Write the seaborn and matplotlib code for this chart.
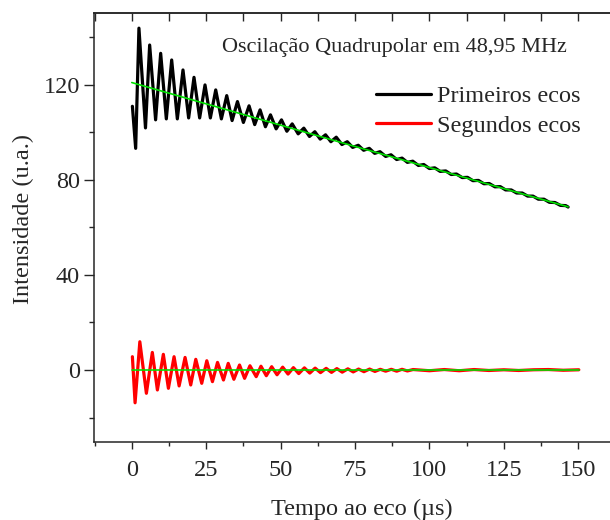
import matplotlib
matplotlib.use("Agg")
import matplotlib.pyplot as plt
from matplotlib.ticker import MultipleLocator
import seaborn as sns
import pandas as pd

# ---- data ----
black_t = [0.2, 1.3, 2.4, 4.6, 6.0, 8.0, 9.7, 11.6, 13.4, 15.3,
           17.2, 19.1, 20.9, 22.8, 24.6, 26.4, 28.2, 30.1, 31.9, 33.7,
           35.5, 37.5, 39.4, 41.3, 43.1, 44.9, 46.6, 48.5, 50.3, 52.1,
           53.9, 55.9, 57.8, 59.7, 61.5, 63.3, 65.1, 66.9, 68.7, 70.6,
           72.4, 74.2, 76.1, 77.9, 79.8, 81.6, 83.4, 85.3, 87.1, 89.0,
           90.8, 92.6, 94.4, 96.3, 98.1, 100.0, 101.8, 103.6, 105.5, 107.3,
           109.1, 111.0, 112.8, 114.6, 116.5, 118.3, 120.1, 122.0, 123.8, 125.6,
           127.5, 129.3, 131.2, 133.0, 134.8, 136.6, 138.5, 140.3, 142.2, 144.0,
           145.8, 146.6]
black_y = [111.0, 93.3, 143.9, 101.9, 136.8, 105.3, 133.3, 105.7, 130.5, 105.7,
           126.3, 106.1, 123.2, 106.1, 120.0, 106.1, 117.9, 105.7, 115.5, 105.0,
           113.0, 104.2, 111.2, 103.3, 109.5, 102.4, 107.4, 101.5, 105.3, 100.5,
           103.6, 99.4, 101.8, 98.3, 100.3, 97.2, 99.0, 96.1, 98.0, 94.9,
           96.1, 93.7, 94.6, 92.5, 93.3, 91.2, 91.9, 89.9, 90.6, 88.6,
           89.2, 87.4, 87.9, 86.1, 86.5, 84.8, 85.1, 83.6, 83.8, 82.3,
           82.5, 81.0, 81.1, 79.7, 79.8, 78.4, 78.5, 77.1, 77.2, 75.8,
           75.8, 74.5, 74.5, 73.2, 73.2, 71.9, 71.9, 70.6, 70.5, 69.3,
           69.2, 68.6]

red_t = [0.2, 1.1, 2.7, 4.9, 6.9, 8.6, 10.6, 12.3, 14.2, 15.9,
         17.9, 19.8, 21.5, 23.5, 25.2, 27.1, 28.8, 30.8, 32.4, 34.3,
         36.2, 37.9, 39.7, 41.8, 43.4, 45.2, 47.0, 48.8, 50.7, 52.5,
         54.3, 56.1, 58.0, 59.8, 61.6, 63.4, 65.3, 67.1, 68.9, 70.7,
         72.6, 74.4, 76.2, 78.0, 79.9, 81.7, 83.5, 85.3, 87.2, 89.0,
         90.8, 92.6, 94.5, 100.0, 105.0, 110.0, 115.0, 120.0, 125.0, 130.0,
         135.0, 140.0, 145.0, 150.2]
red_y = [5.6, -13.8, 11.9, -9.8, 7.4, -8.4, 6.6, -7.7, 5.6, -6.7,
         5.3, -6.3, 4.5, -5.6, 3.9, -4.9, 3.2, -4.2, 2.8, -3.9,
         2.1, -3.5, 1.8, -2.8, 1.6, -2.4, 1.4, -2.0, 1.2, -1.7,
         1.0, -1.5, 0.9, -1.3, 0.8, -1.1, 0.7, -1.0, 0.6, -0.9,
         0.5, -0.8, 0.4, -0.7, 0.4, -0.6, 0.3, -0.5, 0.3, -0.5,
         0.3, -0.4, 0.2, -0.3, 0.2, -0.3, 0.2, -0.2, 0.1, -0.2,
         0.1, 0.2, -0.1, 0.1]

fit1_t = [0.0, 75.0, 146.6]
fit1_y = [121.0, 94.1, 68.7]
fit2_t = [0.0, 150.2]
fit2_y = [0.0, 0.0]

x_ticks = [0, 25, 50, 75, 100, 125, 150]
y_ticks = [0, 40, 80, 120]

annotation = "Oscilação Quadrupolar em 48,95 MHz"
label_1 = "Primeiros ecos"
label_2 = "Segundos ecos"
x_label = "Tempo ao eco (µs)"
y_label = "Intensidade (u.a.)"

# ---- figure ----
sns.set_style("ticks")
plt.rcParams["font.family"] = ["Liberation Serif", "DejaVu Serif"]
plt.rcParams["axes.linewidth"] = 1.1
plt.rcParams["lines.solid_joinstyle"] = "round"

W, H = 610, 520
fig = plt.figure(figsize=(W / 100, H / 100), dpi=100)
ax = fig.add_axes([94 / W, 78 / H, 536 / W, 429.3 / H])

df_b = pd.DataFrame({"t": black_t, "I": black_y})
df_r = pd.DataFrame({"t": red_t, "I": red_y})
df_f1 = pd.DataFrame({"t": fit1_t, "I": fit1_y})
df_f2 = pd.DataFrame({"t": fit2_t, "I": fit2_y})

sns.lineplot(data=df_b, x="t", y="I", color="black", lw=2.3, ax=ax,
             estimator=None, sort=False, label=label_1)
sns.lineplot(data=df_r, x="t", y="I", color="#ff0000", lw=2.3, ax=ax,
             estimator=None, sort=False, label=label_2)
sns.lineplot(data=df_f1, x="t", y="I", color="#00e000", lw=1.2, ax=ax,
             estimator=None, sort=False, legend=False)
sns.lineplot(data=df_f2, x="t", y="I", color="#00e000", lw=1.2, ax=ax,
             estimator=None, sort=False, legend=False)

ax.set_xlim(-12.7, 167.4)
ax.set_ylim(-30.3, 150.4)
ax.set_xticks(x_ticks)
ax.set_yticks(y_ticks)
ax.xaxis.set_minor_locator(MultipleLocator(12.5))
ax.yaxis.set_minor_locator(MultipleLocator(20))
ax.tick_params(axis="y", which="major", direction="out", length=7, width=1,
               labelsize=17.5, pad=3)
ax.tick_params(axis="y", which="minor", direction="out", length=3.6, width=1)
ax.tick_params(axis="x", which="major", direction="out", length=5, width=1,
               labelsize=17.5, pad=8)
ax.tick_params(axis="x", which="minor", direction="out", length=2.6, width=1)
ax.spines["right"].set_visible(False)

sec = ax.secondary_xaxis("top")
sec.set_xticks(x_ticks)
sec.xaxis.set_minor_locator(MultipleLocator(12.5))
sec.tick_params(axis="x", which="both", direction="in", length=6, width=1,
                labeltop=False)
sec.spines["top"].set_linewidth(1.1)

ax.set_xlabel(x_label, fontsize=17.5)
ax.set_ylabel(y_label, fontsize=17.5)
ax.xaxis.set_label_coords(0.5, -0.132)
ax.yaxis.set_label_coords(-0.112, 0.52)

ax.text(30.3, 135.6, annotation, fontsize=16, ha="left", va="center")

ax.legend(loc="upper left", bbox_to_anchor=(376 / W, 1 - 85 / H),
          bbox_transform=fig.transFigure, frameon=False, fontsize=17.5,
          borderpad=0, borderaxespad=0, handlelength=2.25, handletextpad=0.25,
          labelspacing=0.32)

fig.savefig("out.png", dpi=100)
